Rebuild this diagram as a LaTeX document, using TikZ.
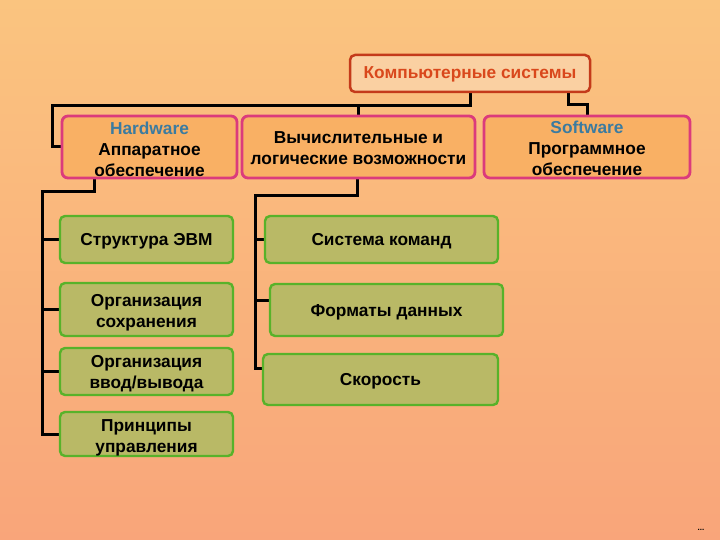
\documentclass[tikz,border=0pt]{standalone}
\usepackage{fontspec}
\setmainfont{Liberation Sans}
\usetikzlibrary{backgrounds}
\definecolor{bgtop}{HTML}{FAC47F}
\definecolor{bgbot}{HTML}{F9A57A}
\definecolor{topfill}{HTML}{FAD0A2}
\definecolor{topline}{HTML}{C43A1A}
\definecolor{toptext}{HTML}{D9481C}
\definecolor{orfill}{HTML}{F9B064}
\definecolor{pinkline}{HTML}{DB3B7C}
\definecolor{grfill}{HTML}{B9B966}
\definecolor{grline}{HTML}{58B22A}
\definecolor{engblue}{HTML}{3B7BA0}
\begin{document}
\begin{tikzpicture}[x=1pt,y=-1pt,
  every node/.style={font=\fontsize{17.3}{21}\selectfont\bfseries, align=center, inner sep=0pt},
  topbox/.style={draw=topline, fill=topfill, line width=2.5pt, rounded corners=5pt},
  orbox/.style={draw=pinkline, fill=orfill, line width=2.8pt, rounded corners=6pt},
  grbox/.style={draw=grline, fill=grfill, line width=2.4pt, rounded corners=5pt},
  conn/.style={line width=3pt, draw=black}]
\useasboundingbox (0,0) rectangle (720,540);

\node[topbox, minimum width=240pt, minimum height=37pt] (top) at (470,73.5) {};

\coordinate (busL) at (52,106);
\coordinate (tr) at (568,105);
\coordinate (hb) at (94,192);
\coordinate (lb) at (42,192);
\coordinate (mb) at (357,196);
\coordinate (mlb) at (255,196);

\node[orbox, minimum width=175pt, minimum height=62pt] (hw) at (149.5,147) {};
\node[orbox, minimum width=233pt, minimum height=62pt] (mid) at (358.5,147) {};
\node[orbox, minimum width=206pt, minimum height=62pt] (sw) at (587,147) {};

\node[grbox, minimum width=173pt, minimum height=47pt] (g1) at (146.5,239.5) {};
\node[grbox, minimum width=173pt, minimum height=53pt] (g2) at (146.5,309.5) {};
\node[grbox, minimum width=173pt, minimum height=47pt] (g3) at (146.5,371.5) {};
\node[grbox, minimum width=173pt, minimum height=44pt] (g4) at (146.5,434) {};

\node[grbox, minimum width=233pt, minimum height=47pt] (m1) at (381.5,239.5) {};
\node[grbox, minimum width=233pt, minimum height=52pt] (m2) at (386.5,310) {};
\node[grbox, minimum width=235pt, minimum height=51pt] (m3) at (380.5,379.5) {};

\coordinate (m2in) at ([yshift=10pt]m2.west);
\coordinate (m3in) at ([yshift=11pt]m3.west);

\begin{pgfonlayer}{background}
\fill[top color=bgtop, bottom color=bgbot] (0,0) rectangle (720,540);
\draw[conn] (top.south) |- (busL) |- (hw.west);
\draw[conn] (mid.north) -- (mid.north |- busL);
\draw[conn] (top.south -| tr) -- (tr) -| (sw.north);
\draw[conn] (hw.south -| hb) |- (lb) |- (g4.west);
\draw[conn] (lb |- g1.west) -- (g1.west);
\draw[conn] (lb |- g2.west) -- (g2.west);
\draw[conn] (lb |- g3.west) -- (g3.west);
\draw[conn] (mid.south -| mb) |- (mlb) |- (m3in);
\draw[conn] (mlb |- m1.west) -- (m1.west);
\draw[conn] (mlb |- m2in) -- (m2in);
\end{pgfonlayer}

% texts
\node[text=toptext] (ttop) at (470,74) {Компьютерные системы};
\node (thw) at (149.5,149) {\textcolor{engblue}{Hardware}\\Аппаратное\\обеспечение};
\node (tmid) at (358.5,148) {Вычислительные и\\логические возможности};
\node (tsw) at (587,148.5) {\textcolor{engblue}{Software}\\Программное\\обеспечение};
\node (tg1) at (146.5,241) {Структура ЭВМ};
\node (tg2) at (146.5,313) {Организация\\сохранения};
\node (tg3) at (146.5,374) {Организация\\ввод/вывода};
\node (tg4) at (146.5,437.5) {Принципы\\управления};
\node (tm1) at (381.5,241) {Система команд};
\node (tm2) at (386.5,312) {Форматы данных};
\node (tm3) at (380.5,381) {Скорость};
\node[font=\fontsize{8}{9}\selectfont\bfseries] (dots) at (701,530) {...};
\end{tikzpicture}
\end{document}
